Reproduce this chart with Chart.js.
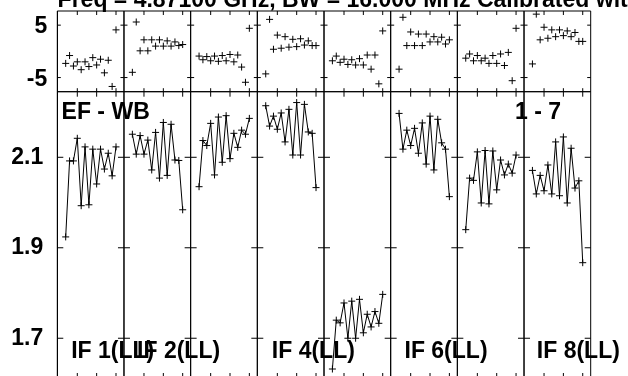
<!DOCTYPE html>
<html>
<head>
<meta charset="utf-8">
<script src="https://cdn.jsdelivr.net/npm/chart.js@4"></script>
<style>
  html, body { margin: 0; padding: 0; background: #fff; }
  body { width: 628px; height: 376px; overflow: hidden; position: relative; }
  #plot { position: absolute; left: 0; top: 0; }
  .lbl { position: absolute; font: bold 23px "Liberation Sans", Arial, sans-serif; line-height: 23px; color: #000; white-space: nowrap; }
</style>
</head>
<body>
<canvas id="plot" width="628" height="392"></canvas>
<div class="lbl" style="left:57.6px; top:-12.2px">Freq =  4.87100 GHz, BW = 16.000 MHz  Calibrated with CL # 2</div>
<div class="lbl" style="left:61.6px; top:99.8px">EF - WB</div>
<div class="lbl" style="left:515px; top:99.8px">1 - 7</div>
<div class="lbl" style="left:71.2px; top:338.8px">IF 1(LL)</div>
<div class="lbl" style="left:137.1px; top:338.8px">IF 2(LL)</div>
<div class="lbl" style="left:271.8px; top:338.8px">IF 4(LL)</div>
<div class="lbl" style="left:404.5px; top:338.8px">IF 6(LL)</div>
<div class="lbl" style="left:536.8px; top:338.8px">IF 8(LL)</div>
<script>
// channels plotted in every IF panel
const channels = [2, 3, 4, 5, 6, 7, 8, 9, 10, 11, 12, 13, 14, 15];

// amplitude per IF
const ampIF1 = [1.924, 2.092, 2.092, 2.142, 1.993, 2.123, 1.995, 2.118, 2.041, 2.118, 2.074, 2.109, 2.059, 2.123];
const ampIF2 = [2.151, 2.107, 2.148, 2.107, 2.138, 2.072, 2.155, 2.054, 2.177, 2.060, 2.173, 2.094, 2.093, 1.984];
const ampIF3 = [2.035, 2.137, 2.126, 2.175, 2.061, 2.189, 2.089, 2.192, 2.097, 2.153, 2.122, 2.160, 2.151, 2.186];
const ampIF4 = [2.214, 2.169, 2.191, 2.162, 2.198, 2.134, 2.206, 2.105, 2.221, 2.105, 2.217, 2.156, 2.153, 2.033];
const ampIF5 = [1.632, 1.740, 1.734, 1.778, 1.700, 1.782, 1.700, 1.786, 1.712, 1.753, 1.725, 1.759, 1.733, 1.797];
const ampIF6 = [2.197, 2.118, 2.160, 2.126, 2.164, 2.109, 2.176, 2.085, 2.191, 2.072, 2.184, 2.132, 2.118, 2.013];
const ampIF7 = [1.940, 2.054, 2.049, 2.112, 1.999, 2.115, 1.997, 2.114, 2.028, 2.094, 2.061, 2.085, 2.065, 2.105];
const ampIF8 = [2.071, 2.019, 2.060, 2.026, 2.083, 2.019, 2.134, 2.015, 2.145, 1.999, 2.120, 2.032, 2.048, 1.867];

// phase per IF (degrees)
const phIF1 = [-2.3, -0.8, -2.8, -2.0, -3.5, -2.0, -2.9, -1.2, -2.6, -1.5, -4.1, -1.7, -6.7, 4.1];
const phIF2 = [-4.0, 5.6, 0.1, 2.2, 0.1, 2.2, 1.0, 2.2, 1.0, 2.0, 1.0, 1.8, 1.1, 1.3];
const phIF3 = [-0.9, -1.6, -1.0, -1.8, -0.9, -1.9, -0.8, -1.8, -0.6, -2.0, -0.7, -3.0, -5.9, 4.4];
const phIF4 = [-4.3, 6.1, 0.4, 3.1, 0.6, 2.8, 0.8, 2.3, 0.9, 2.4, 1.2, 2.0, 1.1, 1.1];
const phIF5 = [-1.8, -0.9, -2.1, -1.5, -2.5, -1.6, -2.6, -1.4, -2.6, -0.7, -3.4, -0.7, -6.2, 3.9];
const phIF6 = [-3.4, 6.5, 1.1, 3.7, 1.1, 3.3, 1.1, 3.3, 1.8, 2.8, 1.8, 2.7, 1.4, 2.2];
const phIF7 = [-1.3, -0.5, -1.8, -0.8, -1.8, -1.3, -2.3, -0.8, -2.3, -0.5, -2.7, -0.2, -5.6, 4.4];
const phIF8 = [-2.4, 7.1, 2.2, 4.6, 2.5, 4.1, 2.8, 4.1, 3.0, 3.9, 2.8, 3.6, 1.9, 1.9];

// tick values / labels
const xTicks = [5, 10, 15];
const ampTicks = [1.7, 1.8, 1.9, 2.0, 2.1, 2.2];
const ampLabels = [1.7, 1.9, 2.1];
const phTicks = [-5, 0, 5];
const phLabels = [-5, 5];

const ampData = [ampIF1, ampIF2, ampIF3, ampIF4, ampIF5, ampIF6, ampIF7, ampIF8];
const phData = [phIF1, phIF2, phIF3, phIF4, phIF5, phIF6, phIF7, phIF8];
const xIds = ampData.map((_, k) => 'x' + k);

Chart.defaults.font.family = '"Liberation Sans", Arial, sans-serif';
Chart.defaults.color = '#000';

const datasets = [];
ampData.forEach((vals, k) => {
  datasets.push({
    label: 'amp IF ' + (k + 1),
    data: channels.map((c, i) => ({x: c, y: vals[i]})),
    xAxisID: xIds[k], yAxisID: 'yAmp',
    showLine: true, borderColor: '#000', borderWidth: 1,
    pointStyle: 'cross', pointRadius: 3.5, pointBorderWidth: 1, pointBorderColor: '#000'
  });
});
phData.forEach((vals, k) => {
  datasets.push({
    label: 'phase IF ' + (k + 1),
    data: channels.map((c, i) => ({x: c, y: vals[i]})),
    xAxisID: xIds[k], yAxisID: 'yPh',
    showLine: false, borderColor: '#000',
    pointStyle: 'cross', pointRadius: 3.5, pointBorderWidth: 1, pointBorderColor: '#000'
  });
});

// keep the y axes at a fixed width and stop them padding the plot area
const fixAxis = s => { s.width = 57.3; s.paddingTop = 0; s.paddingBottom = 0; };

const scales = {};
xIds.forEach(id => {
  scales[id] = {
    type: 'linear', axis: 'x', position: 'bottom', stack: 'ifs', stackWeight: 1,
    min: -0.17, max: 17.06,
    afterBuildTicks: s => { s.ticks = xTicks.map(v => ({value: v})); },
    afterFit: s => { s.height = 0; s.paddingLeft = 0; s.paddingRight = 0; },
    grid: {display: false, drawTicks: false},
    ticks: {display: false},
    border: {display: false}
  };
});
scales.yAmp = {
  type: 'linear', axis: 'y', position: 'left', stack: 'rows', stackWeight: 286.8, weight: 0,
  min: 1.611, max: 2.245,
  afterBuildTicks: s => { s.ticks = ampTicks.map(v => ({value: v})); },
  afterFit: fixAxis,
  grid: {display: false, drawTicks: false},
  border: {display: true, color: '#000', width: 1},
  ticks: {
    padding: 14, font: {size: 23, weight: 'bold'},
    callback: v => ampLabels.some(l => Math.abs(l - v) < 1e-6) ? v.toFixed(1) : ''
  }
};
scales.yPh = {
  type: 'linear', axis: 'y', position: 'left', stack: 'rows', stackWeight: 80.7, weight: 1,
  min: -7.7, max: 7.7,
  afterBuildTicks: s => { s.ticks = phTicks.map(v => ({value: v})); },
  afterFit: fixAxis,
  grid: {display: true, drawTicks: false, color: c => c.tick && c.tick.value === 0 ? '#000' : 'rgba(0,0,0,0)', lineWidth: 1},
  border: {display: true, color: '#000', width: 1},
  ticks: {
    padding: 10, labelOffset: 2, font: {size: 23, weight: 'bold'},
    callback: v => phLabels.includes(v) ? String(v) : ''
  }
};

// panel frames and inward tick marks, placed with the chart's own scales
const frameTicks = {
  id: 'frameTicks',
  afterDatasetsDraw(chart) {
    const {ctx, chartArea: a} = chart;
    const sc = chart.scales;
    const seg = (x1, y1, x2, y2) => { ctx.moveTo(x1, y1); ctx.lineTo(x2, y2); };
    ctx.save();
    ctx.strokeStyle = '#000';
    ctx.lineWidth = 1;
    ctx.beginPath();
    xIds.forEach(id => {
      const s = sc[id];
      seg(s.left, a.top, s.left, a.bottom);
      seg(s.right, a.top, s.right, a.bottom);
    });
    [sc.yPh, sc.yAmp].forEach(s => {
      seg(a.left, s.top, a.right, s.top);
      seg(a.left, s.bottom, a.right, s.bottom);
    });
    [[sc.yPh, 3.5], [sc.yAmp, 6]].forEach(([ys, len]) => {
      ys.ticks.forEach(t => {
        const py = ys.getPixelForValue(t.value);
        xIds.forEach(id => {
          const s = sc[id];
          seg(s.left, py, s.left + len, py);
          seg(s.right - len, py, s.right, py);
        });
      });
    });
    xIds.forEach(id => {
      const s = sc[id];
      s.ticks.forEach(t => {
        const px = s.getPixelForValue(t.value);
        seg(px, sc.yPh.top, px, sc.yPh.top + 4);
        seg(px, sc.yPh.bottom - 3.5, px, sc.yPh.bottom);
        seg(px, sc.yAmp.top, px, sc.yAmp.top + 5);
        seg(px, sc.yAmp.bottom - 5.5, px, sc.yAmp.bottom);
      });
    });
    ctx.stroke();
    ctx.restore();
  }
};

new Chart(document.getElementById('plot'), {
  type: 'scatter',
  data: {datasets: datasets},
  options: {
    responsive: false,
    animation: false,
    events: [],
    layout: {padding: {left: 0, right: 37.3, top: 11, bottom: 13.5}},
    plugins: {legend: {display: false}, tooltip: {enabled: false}, title: {display: false}},
    scales: scales
  },
  plugins: [frameTicks]
});
</script>
</body>
</html>
